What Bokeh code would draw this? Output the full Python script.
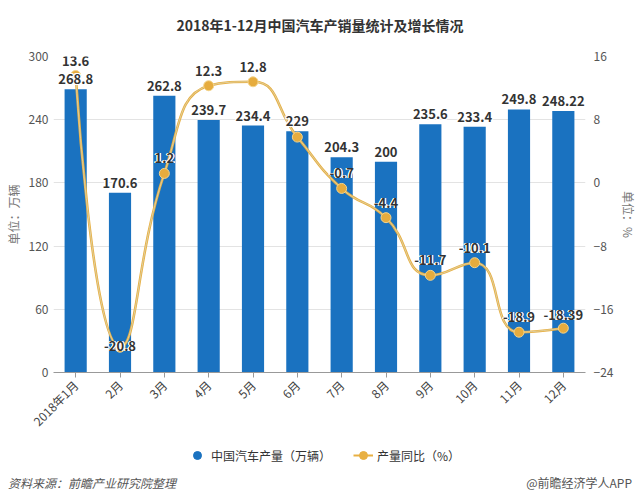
import numpy as np
from bokeh.plotting import figure
from bokeh.layouts import column
from bokeh.models import (ColumnDataSource, Range1d, LinearAxis, FixedTicker, Legend,
                          LegendItem, Div)
from bokeh.core.properties import value
from bokeh.embed import file_html
from bokeh.resources import INLINE

title_text = "2018年1-12月中国汽车产销量统计及增长情况"
source_text = "资料来源：前瞻产业研究院整理"
credit_text = "@前瞻经济学人APP"
months = ["2018年1月", "2月", "3月", "4月", "5月", "6月", "7月", "8月", "9月", "10月", "11月", "12月"]
production = [268.8, 170.6, 262.8, 239.7, 234.4, 229, 204.3, 200, 235.6, 233.4, 249.8, 248.22]
growth = [13.6, -20.8, 1.2, 12.3, 12.8, 5.8, -0.7, -4.4, -11.7, -10.1, -18.9, -18.39]
growth_labels = ["13.6", "-20.8", "1.2", "12.3", "12.8", "", "-0.7", "-4.4", "-11.7", "-10.1", "-18.9", "-18.39"]
left_ticks = [0, 60, 120, 180, 240, 300]
right_ticks = [-24, -16, -8, 0, 8, 16]

FONT = "Noto Sans CJK SC"
BLUE = "#1a72c0"
GOLD = "#e8b043"
BL, BR = 53, 52

xs = [i + 0.5 for i in range(len(months))]

title_div = Div(text=title_text, width=640, height=40, margin=0,
                styles={"font-family": FONT, "font-size": "14px", "font-weight": "bold",
                        "color": "#333333", "text-align": "center", "width": "640px",
                        "line-height": "20px", "padding-top": "15px", "box-sizing": "border-box",
                        "height": "40px"})

p = figure(width=640, height=405, output_backend="svg", toolbar_location=None,
           x_range=Range1d(0, 12), y_range=Range1d(0, 300),
           min_border_left=BL, min_border_right=BR, min_border_top=16, min_border_bottom=73)
p.outline_line_color = None
p.background_fill_color = "white"
p.border_fill_color = "white"

p.extra_y_ranges = {"pct": Range1d(-24, 16)}

# grid
p.xgrid.grid_line_color = None
p.ygrid.grid_line_color = "#e3e3e3"
p.ygrid.ticker = FixedTicker(ticks=left_ticks)

# x axis
xa = p.xaxis[0]
xa.ticker = FixedTicker(ticks=xs)
xa.major_label_overrides = {x: m for x, m in zip(xs, months)}
xa.major_label_orientation = np.pi / 4
xa.major_label_text_font = FONT
xa.major_label_text_font_size = "12px"
xa.major_label_text_color = "#444444"
xa.axis_line_color = "#999999"
xa.major_tick_line_color = "#999999"
xa.major_tick_out = 5
xa.major_tick_in = 0
xa.minor_tick_line_color = None

# left axis
ya = p.yaxis[0]
ya.ticker = FixedTicker(ticks=left_ticks)
ya.axis_label = "单位：万辆"
ya.axis_label_text_font = FONT
ya.axis_label_text_font_size = "12px"
ya.axis_label_text_font_style = "normal"
ya.axis_label_text_color = "#777777"
ya.major_label_text_font = FONT
ya.major_label_text_font_size = "12px"
ya.major_label_text_color = "#555555"
ya.axis_line_color = None
ya.major_tick_line_color = None
ya.minor_tick_line_color = None
ya.major_tick_out = 0
ya.major_tick_in = 0
ya.major_label_standoff = 5
ya.axis_label_standoff = 4

# right axis
ra = LinearAxis(y_range_name="pct", ticker=FixedTicker(ticks=right_ticks))
ra.axis_label = "单位：%"
ra.axis_label_text_font = FONT
ra.axis_label_text_font_size = "12px"
ra.axis_label_text_font_style = "normal"
ra.axis_label_text_color = "#777777"
ra.major_label_text_font = FONT
ra.major_label_text_font_size = "12px"
ra.major_label_text_color = "#555555"
ra.axis_line_color = None
ra.major_tick_line_color = None
ra.minor_tick_line_color = None
ra.major_tick_out = 0
ra.major_tick_in = 0
ra.major_label_standoff = 8
ra.axis_label_standoff = 4
p.add_layout(ra, "right")

# bars
bar_src = ColumnDataSource(dict(x=xs, top=production, lab=[("%g" % v) for v in production]))
p.vbar(x="x", top="top", width=0.5, source=bar_src, color=BLUE, line_color=None)

# smooth curve: echarts-style bezier smoothing with box constraints (pixel-proportional space)
sx, sy = 44.6, 7.92
S = 0.5
pts = [np.array([x * sx, -g * sy]) for x, g in zip(xs, growth)]
n = len(pts)
seg = []
cpa = pts[0].copy()
for k in range(1, n):
    cur = pts[k]
    prev = pts[k - 1]
    if k == n - 1:
        cpb = cur.copy()
        nxt_cp = cur.copy()
    else:
        nxt = pts[k + 1]
        v = nxt - prev
        lp = np.linalg.norm(cur - prev)
        ln = np.linalg.norm(nxt - cur)
        r = ln / (ln + lp)
        nc0 = cur + v * S * r
        nc0 = np.minimum(nc0, np.maximum(nxt, cur))
        nc0 = np.maximum(nc0, np.minimum(nxt, cur))
        vv = nc0 - cur
        cpb = cur - vv * lp / ln
        cpb = np.minimum(cpb, np.maximum(prev, cur))
        cpb = np.maximum(cpb, np.minimum(prev, cur))
        vv = cur - cpb
        nxt_cp = cur + vv * ln / lp
    seg.append((prev, cpa, cpb, cur))
    cpa = nxt_cp

bz = ColumnDataSource(dict(
    x0=[s[0][0] / sx for s in seg], y0=[-s[0][1] / sy for s in seg],
    cx0=[s[1][0] / sx for s in seg], cy0=[-s[1][1] / sy for s in seg],
    cx1=[s[2][0] / sx for s in seg], cy1=[-s[2][1] / sy for s in seg],
    x1=[s[3][0] / sx for s in seg], y1=[-s[3][1] / sy for s in seg]))
p.bezier(x0="x0", y0="y0", x1="x1", y1="y1", cx0="cx0", cy0="cy0", cx1="cx1", cy1="cy1",
         source=bz, y_range_name="pct", line_color=GOLD, line_width=2.6)
p.bezier(x0="x0", y0="y0", x1="x1", y1="y1", cx0="cx0", cy0="cy0", cx1="cx1", cy1="cy1",
         source=bz, y_range_name="pct", line_color="#dcd6b4", line_width=0.8)

offs = [-9, 4, -10, -10, -10, -10, -10, -10, -10, -10, -10, -8]
line_src = ColumnDataSource(dict(x=xs, y=growth, lab=growth_labels, off=offs))
p.scatter(x="x", y="y", source=line_src, y_range_name="pct", size=10,
          fill_color="#e6ac3e", line_color="#f3d48c", line_width=1)

HALO = [(-1, 0), (1, 0), (0, -1), (0, 1), (-1, -1), (1, 1), (-1, 1), (1, -1)]
LAB = dict(text_align="center", text_baseline="bottom", text_font=value(FONT),
           text_font_size="13px", text_font_style="bold")

# bar value labels
for dx, dy in HALO:
    p.text(x="x", y="top", text="lab", source=bar_src, x_offset=dx, y_offset=-5 + dy,
           text_color="white", **LAB)
p.text(x="x", y="top", text="lab", source=bar_src, y_offset=-5, text_color="#333333", **LAB)

# growth labels
for dx, dy in HALO:
    p.text(x="x", y="y", text="lab", source=line_src, y_range_name="pct", x_offset=dx,
           y_offset={"field": "off"}, text_color="white", **LAB)
p.text(x="x", y="y", text="lab", source=line_src, y_range_name="pct",
       y_offset={"field": "off"}, text_color="#333333", **LAB)

# legend figure
f = figure(width=640, height=30, output_backend="svg", toolbar_location=None,
           x_range=Range1d(0, 1), y_range=Range1d(0, 1),
           min_border_left=BL, min_border_right=BR, min_border_top=0, min_border_bottom=0)
f.axis.visible = False
f.grid.grid_line_color = None
f.outline_line_color = None
f.border_fill_color = "white"

dummy = f.scatter(x=[-100], y=[-100], size=13, color=BLUE)
legend_line = f.line(x=[-100, -90], y=[-100, -100], line_color=GOLD, line_width=2)
legend_mk = f.scatter(x=[-100], y=[-100], size=8, fill_color=GOLD, line_color=GOLD)
legend = Legend(items=[LegendItem(label="中国汽车产量（万辆）", renderers=[dummy]),
                       LegendItem(label="产量同比（%）", renderers=[legend_line, legend_mk])],
                orientation="horizontal", location=(187 - BL, 10), border_line_color=None,
                background_fill_alpha=0, label_text_font=FONT, label_text_font_size="12px",
                label_text_color="#333333", glyph_width=20, glyph_height=20, label_height=20,
                label_standoff=4, spacing=22, margin=0, padding=0)
f.add_layout(legend, "center")

foot_html = ('<div style="display:flex;justify-content:space-between;width:640px;'
             'box-sizing:border-box;padding:0 8px;">'
             '<span style="font-style:italic;">%s</span><span>%s</span></div>'
             % (source_text, credit_text))
foot_div = Div(text=foot_html, width=640, height=28, margin=0,
               styles={"font-family": FONT, "font-size": "12px", "color": "#555555",
                       "line-height": "16px", "width": "640px", "height": "28px"})

layout = column(title_div, p, f, foot_div, spacing=0)
open("out.html", "w").write(file_html(layout, INLINE))
